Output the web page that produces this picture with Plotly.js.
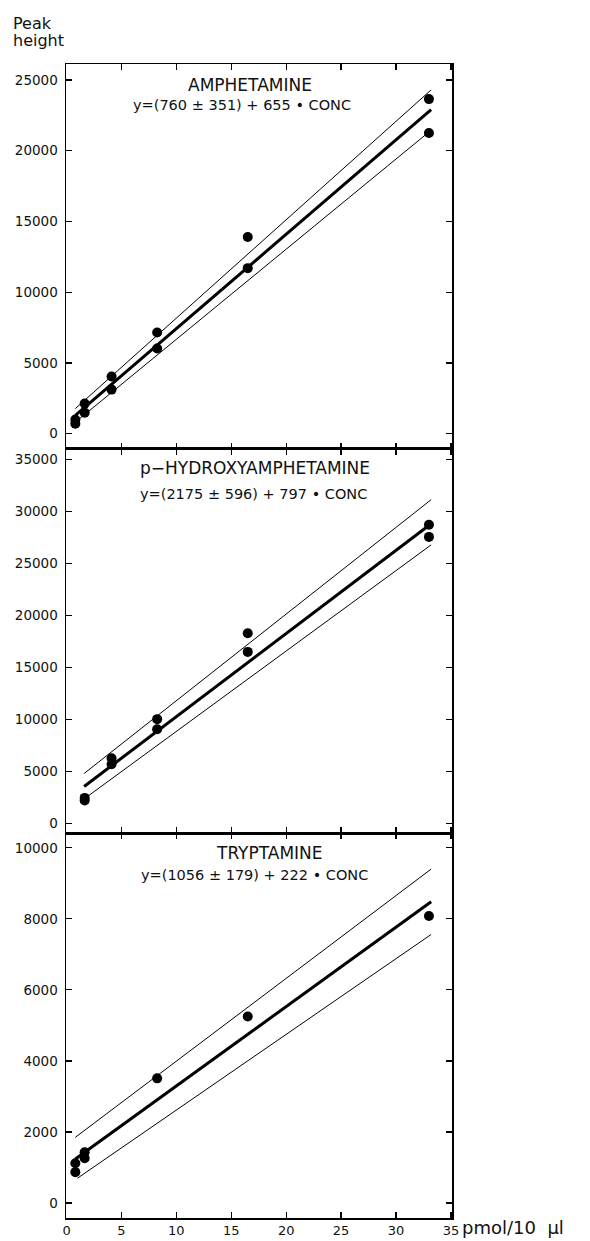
<!DOCTYPE html>
<html>
<head>
<meta charset="utf-8">
<script src="https://cdn.plot.ly/plotly-3.0.1.min.js"></script>
<style>html,body{margin:0;padding:0;background:#fff;}</style>
</head>
<body>
<div id="chart" style="width:590px;height:1241px;"></div>
<script>
// ---- data ----
const titles = ["AMPHETAMINE", "p\u2212HYDROXYAMPHETAMINE", "TRYPTAMINE"];
const formulas = [
  "y=(760 \u00b1 351) + 655 \u2022 CONC",
  "y=(2175 \u00b1 596) + 797 \u2022 CONC",
  "y=(1056 \u00b1 179) + 222 \u2022 CONC"
];

// Amphetamine
const concAmph = [0.8, 0.8, 1.65, 1.65, 4.1, 4.1, 8.25, 8.25, 16.5, 16.5, 33, 33];
const peakAmph = [708, 1000, 1487, 2125, 3116, 4037, 6020, 7153, 11700, 13900, 21250, 23650];
const fitXAmph = [0.8, 33.2];
const fitYAmph = [1290, 22900];
const upXAmph = [0.8, 33.2];
const upYAmph = [1770, 24300];
const loXAmph = [0.8, 33.2];
const loYAmph = [810, 21450];

// p-Hydroxyamphetamine
const concHyd = [1.65, 1.65, 4.1, 4.1, 8.25, 8.25, 16.5, 16.5, 33, 33];
const peakHyd = [2200, 2450, 5690, 6270, 9060, 10030, 16500, 18300, 27570, 28730];
const fitXHyd = [1.6, 33.2];
const fitYHyd = [3550, 28830];
const upXHyd = [1.6, 33.2];
const upYHyd = [4800, 31150];
const loXHyd = [1.6, 33.2];
const loYHyd = [2350, 26800];

// Tryptamine
const concTry = [0.8, 0.8, 1.65, 1.65, 8.25, 16.5, 33];
const peakTry = [870, 1120, 1260, 1430, 3510, 5250, 8080];
const fitXTry = [0.8, 33.2];
const fitYTry = [1240, 8480];
const upXTry = [0.8, 33.2];
const upYTry = [1850, 9400];
const loXTry = [1.0, 33.2];
const loYTry = [700, 7560];

const xTicks = [0, 5, 10, 15, 20, 25, 30, 35];
const yTicks1 = [0, 5000, 10000, 15000, 20000, 25000];
const yTicks2 = [0, 5000, 10000, 15000, 20000, 25000, 30000, 35000];
const yTicks3 = [0, 2000, 4000, 6000, 8000, 10000];
const xUnit = "pmol/10&#160;&#160;\u03bcl";
const yTitle = ["Peak", "height"];

// ---- traces ----
function panel(conc, peak, fx, fy, ux, uy, lx, ly, xa, ya) {
  return [
    {x: ux, y: uy, xaxis: xa, yaxis: ya, mode: 'lines', line: {color: '#000', width: 1}, hoverinfo: 'skip'},
    {x: lx, y: ly, xaxis: xa, yaxis: ya, mode: 'lines', line: {color: '#000', width: 1}, hoverinfo: 'skip'},
    {x: fx, y: fy, xaxis: xa, yaxis: ya, mode: 'lines', line: {color: '#000', width: 3}, hoverinfo: 'skip'},
    {x: conc, y: peak, xaxis: xa, yaxis: ya, mode: 'markers', marker: {color: '#000', size: 10}}
  ];
}
const data = [].concat(
  panel(concAmph, peakAmph, fitXAmph, fitYAmph, upXAmph, upYAmph, loXAmph, loYAmph, 'x', 'y'),
  panel(concHyd, peakHyd, fitXHyd, fitYHyd, upXHyd, upYHyd, loXHyd, loYHyd, 'x2', 'y2'),
  panel(concTry, peakTry, fitXTry, fitYTry, upXTry, upYTry, loXTry, loYTry, 'x3', 'y3')
);

// ---- layout ----
const FONT = '"DejaVu Sans", Lato, sans-serif';
function xax(anchor, labels) {
  return {
    anchor: anchor, domain: [0, 1], range: [-0.05, 35.1],
    tickmode: 'array', tickvals: xTicks, ticktext: xTicks.map(String),
    showticklabels: labels, ticks: 'inside', ticklen: 6, tickwidth: 1.2, tickcolor: '#000',
    mirror: 'ticks', showline: true, linecolor: '#000', linewidth: 1.5,
    showgrid: false, zeroline: false, tickfont: {family: FONT, size: 13, color: '#111'}
  };
}
function yax(anchor, domain, range, ticks) {
  return {
    anchor: anchor, domain: domain, range: range,
    tickmode: 'array', tickvals: ticks, ticktext: ticks.map(String),
    ticks: 'inside', ticklen: 6, tickwidth: 1.2, tickcolor: '#000',
    mirror: 'ticks', showline: true, linecolor: '#000', linewidth: 1.5,
    showgrid: false, zeroline: false, ticklabelstandoff: 4,
    tickfont: {family: FONT, size: 13.5, color: '#111'}
  };
}

const ann = [];
const titlePos = [[0.477, 0.9818], [0.490, 0.6499], [0.528, 0.3163]];
const formPos = [[0.456, 0.9645], [0.4845, 0.6274], [0.4896, 0.2972]];
for (let i = 0; i < 3; i++) {
  ann.push({text: titles[i], xref: 'paper', yref: 'paper', x: titlePos[i][0], y: titlePos[i][1],
    xanchor: 'center', yanchor: 'middle', showarrow: false, font: {family: FONT, size: 17, color: '#111'}});
  ann.push({text: formulas[i], xref: 'paper', yref: 'paper', x: formPos[i][0], y: formPos[i][1],
    xanchor: 'center', yanchor: 'middle', showarrow: false, font: {family: FONT, size: 14.5, color: '#111'}});
}
ann.push({text: yTitle[0], xref: 'paper', yref: 'paper', x: -0.142, y: 1.0355, xanchor: 'left', yanchor: 'middle',
  showarrow: false, font: {family: FONT, size: 16, color: '#111'}});
ann.push({text: yTitle[1], xref: 'paper', yref: 'paper', x: -0.142, y: 1.0205, xanchor: 'left', yanchor: 'middle',
  showarrow: false, font: {family: FONT, size: 16, color: '#111'}});
ann.push({text: xUnit, xref: 'paper', yref: 'paper', x: 1.02, y: -0.0085, xanchor: 'left', yanchor: 'middle',
  showarrow: false, font: {family: FONT, size: 18, color: '#111'}});

const layout = {
  width: 590, height: 1241,
  margin: {l: 66, r: 138, t: 64, b: 23},
  paper_bgcolor: '#fff', plot_bgcolor: '#fff',
  showlegend: false,
  font: {family: FONT, size: 14, color: '#111'},
  xaxis: xax('y', false),
  yaxis: yax('x', [2/3, 1], [-1060, 26130], yTicks1),
  xaxis2: xax('y2', false),
  yaxis2: yax('x2', [1/3, 2/3], [-960, 36060], yTicks2),
  xaxis3: xax('y3', true),
  yaxis3: yax('x3', [0, 1/3], [-421, 10407], yTicks3),
  annotations: ann
};

Plotly.newPlot('chart', data, layout, {staticPlot: true, displayModeBar: false});
</script>
</body>
</html>
